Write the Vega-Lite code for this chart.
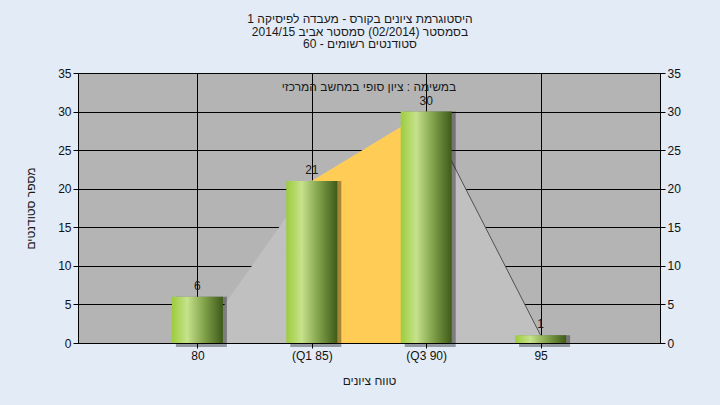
{
  "$schema": "https://vega.github.io/schema/vega-lite/v6.json",
  "width": 582,
  "height": 270,
  "autosize": {"type": "none"},
  "padding": {"left": 78, "top": 73, "right": 60, "bottom": 62},
  "background": "#e2ebf6",
  "title": {
    "text": ["היסטוגרמת ציונים בקורס - מעבדה לפיסיקה 1", "בסמסטר  (02/2014)  סמסטר אביב 2014/15", "סטודנטים רשומים - 60"],
    "fontSize": 12,
    "fontWeight": "normal",
    "lineHeight": 12.5,
    "color": "#1a1a1a",
    "anchor": "middle",
    "offset": 16,
    "dx": -9
  },
  "data": {
    "values": [
      {"idx": 1, "label": "80", "count": 6, "area": 0},
      {"idx": 2, "label": "(Q1 85)", "count": 21, "area": 21},
      {"idx": 3, "label": "(Q3 90)", "count": 30, "area": 30},
      {"idx": 4, "label": "95", "count": 1, "area": 1}
    ]
  },
  "layer": [
    {
      "mark": {"type": "area", "color": "#c0c0c0", "opacity": 1},
      "encoding": {
        "x": {
          "field": "idx",
          "type": "quantitative",
          "scale": {"domain": [0, 5], "nice": false, "zero": false},
          "axis": {
            "values": [1, 2, 3, 4],
            "labelExpr": "['','80','(Q1 85)','(Q3 90)','95'][datum.value]",
            "title": "טווח ציונים",
            "titleFontSize": 12,
            "titleFontWeight": "normal",
            "titleColor": "#1a1a1a",
            "titlePadding": 14,
            "labelFontSize": 12,
            "labelColor": "#111",
            "labelPadding": 2,
            "tickSize": 5,
            "tickColor": "#000",
            "domainColor": "#000",
            "grid": true,
            "gridColor": "#000",
            "gridOpacity": 1
          }
        },
        "y": {
          "field": "area",
          "type": "quantitative",
          "scale": {"domain": [0, 35], "nice": false},
          "axis": {
            "orient": "left",
            "values": [0, 5, 10, 15, 20, 25, 30, 35],
            "title": "מספר סטודנטים",
            "titleFontSize": 12,
            "titleFontWeight": "normal",
            "titleColor": "#1a1a1a",
            "titlePadding": 20,
            "labelFontSize": 12,
            "labelColor": "#111",
            "labelPadding": 2,
            "tickSize": 5,
            "tickColor": "#000",
            "domainColor": "#000",
            "grid": true,
            "gridColor": "#000",
            "gridOpacity": 1
          }
        }
      }
    },
    {
      "transform": [{"filter": "datum.idx >= 2 && datum.idx <= 3"}],
      "mark": {"type": "area", "color": "#ffcc55", "opacity": 1},
      "encoding": {
        "x": {"field": "idx", "type": "quantitative"},
        "y": {"field": "area", "type": "quantitative", "axis": null}
      }
    },
    {
      "transform": [{"filter": "datum.idx >= 3"}],
      "mark": {"type": "line", "color": "#505050", "strokeWidth": 1},
      "encoding": {
        "x": {"field": "idx", "type": "quantitative"},
        "y": {"field": "area", "type": "quantitative", "axis": null}
      }
    },
    {
      "mark": {"type": "bar", "width": 51, "color": "#000", "opacity": 0.35, "xOffset": 4, "y2Offset": 4},
      "encoding": {
        "x": {"field": "idx", "type": "quantitative"},
        "y": {"field": "count", "type": "quantitative", "axis": null},
        "y2": {"datum": 0}
      }
    },
    {
      "mark": {
        "type": "bar",
        "width": 51,
        "color": {
          "gradient": "linear",
          "x1": 0, "x2": 1, "y1": 0, "y2": 0,
          "stops": [
            {"offset": 0, "color": "#9ccc3c"},
            {"offset": 0.3, "color": "#c6e28c"},
            {"offset": 0.6, "color": "#88a850"},
            {"offset": 1, "color": "#3e5a18"}
          ]
        }
      },
      "encoding": {
        "x": {"field": "idx", "type": "quantitative"},
        "y": {"field": "count", "type": "quantitative", "axis": null},
        "y2": {"datum": 0}
      }
    },
    {
      "mark": {"type": "text", "fontSize": 12, "color": "#1a1a1a", "baseline": "alphabetic", "dy": -7},
      "encoding": {
        "x": {"field": "idx", "type": "quantitative"},
        "y": {"field": "count", "type": "quantitative", "axis": null},
        "text": {"field": "count", "type": "quantitative"}
      }
    },
    {
      "data": {"values": [{"note": "במשימה : ציון סופי במחשב המרכזי", "nx": 2.5, "ny": 33.2}]},
      "mark": {"type": "text", "fontSize": 12, "color": "#1a1a1a", "baseline": "middle", "align": "center"},
      "encoding": {
        "x": {"field": "nx", "type": "quantitative"},
        "y": {"field": "ny", "type": "quantitative", "axis": null},
        "text": {"field": "note", "type": "nominal"}
      }
    },
    {
      "mark": {"type": "point", "opacity": 0},
      "encoding": {
        "x": {"field": "idx", "type": "quantitative"},
        "y": {
          "field": "count",
          "type": "quantitative",
          "axis": {
            "orient": "right",
            "values": [0, 5, 10, 15, 20, 25, 30, 35],
            "title": null,
            "labelFontSize": 12,
            "labelColor": "#111",
            "labelPadding": 2,
            "tickSize": 5,
            "tickColor": "#000",
            "domainColor": "#000",
            "grid": false
          }
        }
      }
    }
  ],
  "resolve": {"axis": {"y": "independent"}},
  "config": {
    "font": "Liberation Sans",
    "view": {"fill": "#b4b4b4", "stroke": "#000", "strokeWidth": 1}
  }
}
